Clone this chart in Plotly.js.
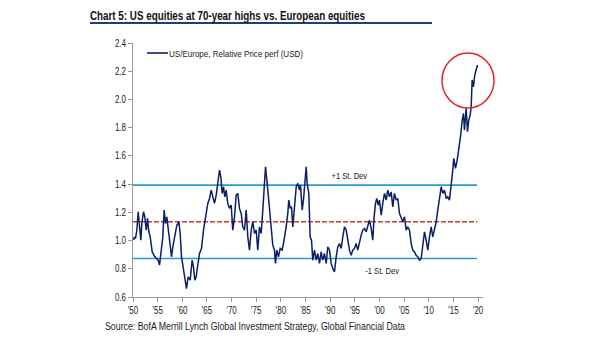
<!DOCTYPE html>
<html>
<head>
<meta charset="utf-8">
<script src="https://cdn.plot.ly/plotly-3.0.1.min.js"></script>
<style>
html,body{margin:0;padding:0;background:#fff;}
#chart{width:605px;height:341px;}
</style>
</head>
<body>
<div id="chart"></div>
<script>
// Data
const years = [1950.10,1950.30,1950.51,1950.78,1951.05,1951.32,1951.59,1951.79,1952.13,1952.40,1952.68,1952.94,1953.21,1953.49,1953.89,1954.36,1954.83,1955.10,1955.38,1955.71,1956.05,1956.32,1956.59,1956.86,1957.13,1957.40,1957.81,1958.08,1958.48,1958.89,1959.29,1959.57,1959.84,1960.24,1960.65,1960.85,1961.19,1961.60,1962.00,1962.27,1962.54,1962.82,1963.14,1963.49,1963.89,1964.30,1964.85,1965.17,1965.52,1965.86,1966.19,1966.53,1966.88,1967.20,1967.55,1967.81,1968.09,1968.36,1968.62,1968.90,1969.23,1969.57,1969.92,1970.24,1970.59,1970.93,1971.26,1971.60,1971.95,1972.27,1972.62,1972.96,1973.29,1973.63,1973.98,1974.30,1974.65,1974.99,1975.31,1975.66,1976.00,1976.33,1976.67,1976.88,1977.22,1977.55,1977.83,1978.09,1978.36,1978.70,1978.90,1979.17,1979.51,1979.86,1980.26,1980.53,1980.79,1981.07,1981.40,1981.60,1981.89,1982.15,1982.42,1982.76,1983.11,1983.43,1983.77,1983.98,1984.32,1984.58,1984.85,1985.13,1985.33,1985.66,1985.94,1986.21,1986.47,1986.82,1987.16,1987.49,1987.83,1988.17,1988.50,1988.84,1989.19,1989.51,1989.86,1990.20,1990.53,1990.87,1991.22,1991.54,1991.89,1992.23,1992.56,1992.90,1993.25,1993.57,1993.91,1994.26,1994.58,1994.93,1995.27,1995.60,1995.94,1996.29,1996.61,1996.96,1997.30,1997.63,1997.97,1998.32,1998.64,1998.92,1999.19,1999.45,1999.74,2000.00,2000.35,2000.67,2001.01,2001.36,2001.68,2002.03,2002.37,2002.70,2003.04,2003.39,2003.71,2004.06,2004.40,2004.73,2005.07,2005.42,2005.74,2006.09,2006.43,2006.75,2007.10,2007.44,2007.77,2008.11,2008.46,2008.78,2009.13,2009.47,2009.80,2010.14,2010.49,2010.81,2011.16,2011.50,2011.83,2012.17,2012.52,2012.84,2013.19,2013.53,2013.85,2014.20,2014.54,2014.87,2015.07,2015.42,2015.76,2016.09,2016.43,2016.78,2017.04,2017.24,2017.59,2017.85,2018.11,2018.40,2018.60,2018.80,2019.07,2019.33,2019.61,2019.88];
const relPerf = [1.003,1.026,1.015,1.074,1.204,1.109,1.003,1.121,1.204,1.168,1.074,1.157,1.062,1.026,0.920,0.889,0.873,0.861,0.826,0.932,1.026,1.216,1.121,1.168,1.074,1.003,0.885,0.955,1.026,1.109,1.133,1.050,0.885,0.790,0.707,0.660,0.743,0.719,0.861,0.813,0.719,0.743,0.826,0.908,0.944,1.074,1.192,1.263,1.298,1.357,1.310,1.263,1.322,1.416,1.499,1.452,1.334,1.381,1.310,1.357,1.263,1.228,1.251,1.074,1.168,1.322,1.334,1.228,1.192,1.097,1.074,1.216,1.026,0.932,1.074,1.133,1.050,1.074,0.932,1.097,1.050,1.216,1.405,1.523,1.405,1.263,1.192,1.050,0.967,0.932,0.838,0.932,0.885,0.944,0.932,0.979,1.026,1.097,1.192,1.287,1.228,1.239,1.097,1.263,1.381,1.405,1.357,1.393,1.216,1.287,1.405,1.523,1.405,1.334,1.026,1.003,0.861,0.932,0.861,0.908,0.838,0.920,0.861,0.908,0.838,0.955,0.932,0.838,0.802,0.778,0.885,0.955,0.979,0.944,1.026,1.097,1.074,1.003,0.932,0.896,0.932,0.944,0.979,0.932,0.991,1.038,1.074,1.086,1.062,1.109,1.145,1.086,1.003,1.168,1.263,1.298,1.251,1.287,1.180,1.263,1.334,1.287,1.357,1.310,1.345,1.239,1.334,1.287,1.298,1.192,1.168,1.133,1.168,1.074,1.097,1.074,0.979,0.932,0.920,0.896,0.885,0.861,0.873,0.979,1.062,1.003,0.932,1.026,1.097,1.026,1.074,1.133,1.216,1.287,1.381,1.334,1.357,1.298,1.310,1.287,1.381,1.499,1.582,1.511,1.570,1.641,1.735,1.854,1.901,1.783,1.937,1.771,1.854,1.889,1.948,2.138,2.090,2.173,2.209,2.244];
const plusSD = 1.393;
const meanVal = 1.133;
const minusSD = 0.873;
const bandYears = [1950, 2019.8];
const xTickVals = [1950,1955,1960,1965,1970,1975,1980,1985,1990,1995,2000,2005,2010,2015,2020];
const xTickText = ["'50","'55","'60","'65","'70","'75","'80","'85","'90","'95","'00","'05","'10","'15","'20"];
const yTickVals = [0.6,0.8,1.0,1.2,1.4,1.6,1.8,2.0,2.2,2.4];
const seriesName = 'US/Europe, Relative Price perf (USD)';
const titleText = 'Chart 5: US equities at 70-year highs vs. European equities';
const sourceText = 'Source: BofA Merrill Lynch Global Investment Strategy, Global Financial Data';

const FONT = '"Liberation Sans", Arial, sans-serif';

const traces = [
  {x: bandYears, y: [plusSD, plusSD], mode: 'lines', line: {color: '#2b9ad6', width: 1.6}, showlegend: false, hoverinfo: 'skip'},
  {x: bandYears, y: [minusSD, minusSD], mode: 'lines', line: {color: '#2b9ad6', width: 1.6}, showlegend: false, hoverinfo: 'skip'},
  {x: bandYears, y: [meanVal, meanVal], mode: 'lines', line: {color: '#b8402a', width: 1.4, dash: '5px,2px'}, showlegend: false, hoverinfo: 'skip'},
  {x: years, y: relPerf, mode: 'lines', name: seriesName, line: {color: '#0b1f66', width: 1.5}, showlegend: false}
];

const pxX = p => (p - 133) / 350;
const pxY = p => (297 - p) / 254;

const layout = {
  width: 605, height: 341,
  margin: {l: 133, r: 122, t: 43, b: 44},
  paper_bgcolor: '#fff', plot_bgcolor: '#fff',
  font: {family: FONT, size: 10, color: '#1a1a1a'},
  title: {
    text: '<b>' + titleText + '</b>',
    xref: 'container', yref: 'container', x: 90/605, y: 1 - 15/341,
    xanchor: 'left', yanchor: 'middle',
    font: {family: FONT, size: 13, color: '#111'}
  },
  xaxis: {
    range: [1950, 2021], tickvals: xTickVals, ticktext: xTickText,
    showline: true, linecolor: '#9a9a9a', linewidth: 1,
    ticks: 'outside', ticklen: 4, tickcolor: '#9a9a9a',
    showgrid: false, zeroline: false,
    tickfont: {family: FONT, size: 10, color: '#1a1a1a'}
  },
  yaxis: {
    range: [0.6, 2.4], tickvals: yTickVals, tickformat: '.1f',
    showline: true, linecolor: '#9a9a9a', linewidth: 1,
    ticks: 'outside', ticklen: 4, tickcolor: '#9a9a9a',
    showgrid: false, zeroline: false,
    tickfont: {family: FONT, size: 10, color: '#1a1a1a'}
  },
  shapes: [
    {type: 'line', xref: 'paper', yref: 'paper', x0: pxX(90), x1: pxX(432), y0: pxY(23), y1: pxY(23), line: {color: '#1f3d7a', width: 2}},
    {type: 'circle', xref: 'paper', yref: 'paper', x0: pxX(442), x1: pxX(494), y0: pxY(108), y1: pxY(53), line: {color: '#e0242a', width: 1.5}},
    {type: 'line', xref: 'paper', yref: 'paper', x0: pxX(147), x1: pxX(168), y0: pxY(53), y1: pxY(53), line: {color: '#0b1f66', width: 1.6}}
  ],
  annotations: [
    {text: seriesName, xref: 'paper', yref: 'paper', x: pxX(167), y: pxY(53), xanchor: 'left', yanchor: 'middle', align: 'left', showarrow: false, font: {family: FONT, size: 9.5, color: '#1a1a1a'}},
    {text: '+1 St. Dev', xref: 'x', yref: 'paper', x: 1994, y: pxY(175), xanchor: 'center', yanchor: 'middle', showarrow: false, font: {family: FONT, size: 9.5, color: '#1a1a1a'}},
    {text: '-1 St. Dev', xref: 'x', yref: 'paper', x: 2000.5, y: pxY(270), xanchor: 'center', yanchor: 'middle', showarrow: false, font: {family: FONT, size: 9.5, color: '#1a1a1a'}},
    {text: sourceText, xref: 'paper', yref: 'paper', x: pxX(103), y: pxY(326), xanchor: 'left', yanchor: 'middle', align: 'left', showarrow: false, font: {family: FONT, size: 10, color: '#1a1a1a'}}
  ]
};

// Target widths (px) for a narrow-font look, as in the reference
const targetWidth = {};
targetWidth[titleText] = 275;
targetWidth[sourceText] = 300;
targetWidth[seriesName] = 134;
const NARROW = 0.8;

Plotly.newPlot('chart', traces, layout, {displayModeBar: false, staticPlot: true}).then(function (gd) {
  gd.querySelectorAll('svg text').forEach(function (t) {
    const content = t.textContent;
    if (!content) return;
    const w = t.getComputedTextLength();
    if (!w) return;
    const tw = targetWidth[content] !== undefined ? targetWidth[content] : w * NARROW;
    t.setAttribute('textLength', tw.toFixed(1));
    t.setAttribute('lengthAdjust', 'spacingAndGlyphs');
  });
});
</script>
</body>
</html>
